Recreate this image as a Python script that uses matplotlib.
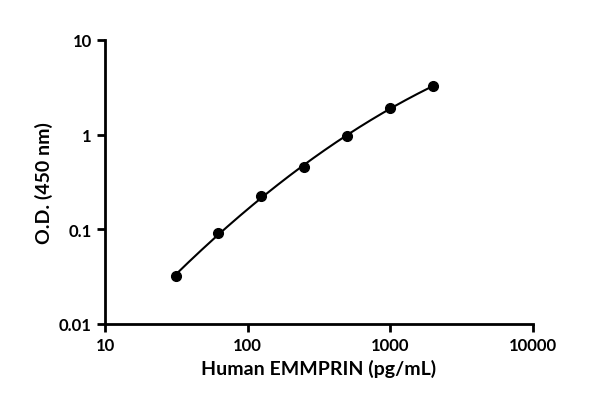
import matplotlib
matplotlib.use("Agg")
import matplotlib.pyplot as plt
import numpy as np
from matplotlib.ticker import FixedLocator, FixedFormatter, NullLocator

conc = [31.25, 62.5, 125, 250, 500, 1000, 2000]
od = [0.032, 0.092, 0.225, 0.46, 0.97, 1.9, 3.3]
x_ticks = [10, 100, 1000, 10000]
x_labels = ["10", "100", "1000", "10000"]
y_ticks = [0.01, 0.1, 1, 10]
y_labels = ["0.01", "0.1", "1", "10"]

plt.rcParams['font.family'] = ['Lato', 'DejaVu Sans']
plt.rcParams['font.weight'] = 'bold'

fig = plt.figure(figsize=(6, 4.14), dpi=100)
ax = fig.add_axes([0.175, 0.215, 0.713, 0.686])

# quadratic fit in log-log space for the standard curve
lx, ly = np.log10(conc), np.log10(od)
coef = np.polyfit(lx, ly, 2)
xs = np.linspace(lx[0], lx[-1], 200)
ax.plot(10 ** xs, 10 ** np.polyval(coef, xs), color='black', lw=1.5)
ax.plot(conc, od, 'o', color='black', ms=7)

ax.set_xscale('log')
ax.set_yscale('log')
ax.set_xlim(10, 10000)
ax.set_ylim(0.01, 10)
ax.xaxis.set_major_locator(FixedLocator(x_ticks))
ax.xaxis.set_major_formatter(FixedFormatter(x_labels))
ax.yaxis.set_major_locator(FixedLocator(y_ticks))
ax.yaxis.set_major_formatter(FixedFormatter(y_labels))
ax.xaxis.set_minor_locator(NullLocator())
ax.yaxis.set_minor_locator(NullLocator())

for s in ['top', 'right']:
    ax.spines[s].set_visible(False)
for s in ['left', 'bottom']:
    ax.spines[s].set_linewidth(2)
ax.tick_params(width=2, length=6, labelsize=12)
ax.set_xlabel('Human EMMPRIN (pg/mL)', fontsize=14, fontweight='bold')
ax.set_ylabel('O.D. (450 nm)', fontsize=14, fontweight='bold')

fig.savefig('out.png', dpi=100)
